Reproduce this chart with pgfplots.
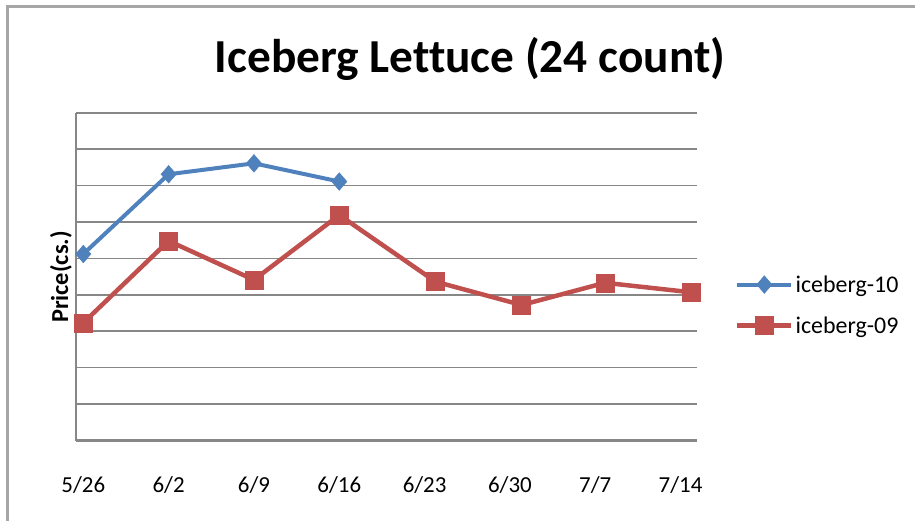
\documentclass[border=0pt]{standalone}
\usepackage{pgfplots}
\pgfplotsset{compat=1.18}
\usepackage{pgfplotstable}
\usepackage{fontspec}
\setmainfont[Ligatures={NoCommon}]{Carlito}
\definecolor{xlblue}{HTML}{4F81BD}
\definecolor{xlred}{HTML}{C0504D}
\definecolor{gridgray}{HTML}{878787}
\definecolor{framegray}{HTML}{A6A6A6}

\pgfplotstableread{
day price
0    5.12
7    7.31
14   7.61
21   7.11
}\icebergten

\pgfplotstableread{
day price
0     3.23
7     5.48
14    4.41
21    6.19
28.9  4.36
35.96 3.72
42.8  4.33
49.85 4.07
}\icebergnine

\begin{document}
\begin{tikzpicture}[x=1bp,y=1bp]
\useasboundingbox (0,0) rectangle (915,-521);
% chart frame (only the left and top edges are inside the picture)
\draw[framegray, line width=2.2bp] (7.5,-521) -- (7.5,-6.5) -- (915,-6.5);
% title
\node[anchor=base, inner sep=0pt, font=\fontsize{47.5}{52}\selectfont\bfseries] at (470,-73) {Iceberg Lettuce (24 count)};
% y label
\node[rotate=90, anchor=base, inner sep=0pt, font=\fontsize{24.5}{28}\selectfont\bfseries] at (68,-277) {Price(cs.)};
\begin{axis}[
  at={(76bp,-440.5bp)}, anchor=south west,
  scale only axis, width=621bp, height=327.8bp,
  xmin=-0.6, xmax=50.35, ymin=0, ymax=9,
  axis x line=bottom, axis y line=left,
  axis line style={gridgray, line width=2.4bp, -},
  xtick={0,7,14,21,28,35,42,49},
  xticklabels={5/26,6/2,6/9,6/16,6/23,6/30,7/7,7/14},
  ytick={0,1,2,3,4,5,6,7,8,9},
  yticklabels={},
  major tick length=0pt,
  ymajorgrids,
  major grid style={gridgray, line width=1.6bp},
  xticklabel style={anchor=base, yshift=-51.5bp, font=\fontsize{23}{26}\selectfont},
  clip=false,
  legend style={at={(1.061,0.413)}, anchor=west, draw=none, fill=none,
    inner sep=0pt, font=\fontsize{24}{28}\selectfont, row sep=19bp,
    nodes={inner sep=2bp}},
  legend cell align=left,
  legend image code/.code={\draw[mark repeat=2, mark phase=2, #1] plot coordinates {(0bp,0bp) (27bp,0bp) (54bp,0bp)};},
]
\addplot[xlblue, line width=4bp, mark=diamond*, mark size=8.8bp, mark options={solid, xscale=1.15, line width=0.5bp, fill=xlblue}] table[x=day, y=price] {\icebergten};
\addlegendentry{iceberg-10}
\addplot[xlred, line width=4.5bp, mark=square*, mark size=9bp, mark options={solid, line width=0.5bp, fill=xlred}] table[x=day, y=price] {\icebergnine};
\addlegendentry{iceberg-09}
\end{axis}
\end{tikzpicture}
\end{document}
